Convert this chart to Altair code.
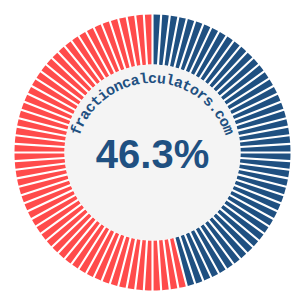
import math
import altair as alt
import pandas as pd

percent = 46.3
n_segments = 100
center_label = "46.3%"
site = "fractioncalculators.com"

blue = "#1f5081"
red = "#ff4b4b"
gray = "#f4f4f4"

seg_start = list(range(n_segments))
seg_end = [i + 1 for i in seg_start]
seg_part = ["done" if e <= percent else "rest" for e in seg_end]

seg_df = pd.DataFrame({"start": seg_start, "end": seg_end, "part": seg_part})

# curved site text: one character per datum, spread over an arc at the top
span_deg = 137.0
chars = list(site)
n = len(chars)
deg = [-span_deg / 2 + i * span_deg / (n - 1) for i in range(n)]
char_df = pd.DataFrame({
    "ch": chars,
    "pos": [(d % 360) / 3.6 for d in deg],
    "rot": [d % 360 for d in deg],
})

theta_scale = alt.Scale(domain=[0, 100], range=[0, 2 * math.pi])

segments = alt.Chart(seg_df).mark_arc(
    innerRadius=88, outerRadius=138, padAngle=0.013
).encode(
    theta=alt.Theta("start:Q", scale=theta_scale),
    theta2="end:Q",
    color=alt.Color("part:N", scale=alt.Scale(domain=["done", "rest"], range=[blue, red]), legend=None),
)

disc = alt.Chart(pd.DataFrame({"v": [0]})).mark_arc(
    innerRadius=0, outerRadius=88, theta=0, theta2=2 * math.pi
).encode(color=alt.value(gray))

big = alt.Chart(pd.DataFrame({"t": [center_label]})).mark_text(
    font="Liberation Sans", fontSize=40, fontWeight="bold", color=blue,
    align="center", baseline="middle", dy=3
).encode(text="t:N")

curved = alt.Chart(char_df).mark_text(
    font="Liberation Mono", fontSize=15, fontWeight="bold", color=blue, radius=82,
    align="center", baseline="middle"
).encode(
    theta=alt.Theta("pos:Q", scale=theta_scale),
    angle=alt.Angle("rot:Q", scale=None),
    y=alt.value(160),
    text="ch:N",
)

chart = alt.layer(segments, disc, big, curved).properties(
    width=305, height=305, padding=0, autosize="none", background="white"
).configure_view(stroke=None)

chart.save("out.html", embed_options={"renderer": "svg", "actions": False})
